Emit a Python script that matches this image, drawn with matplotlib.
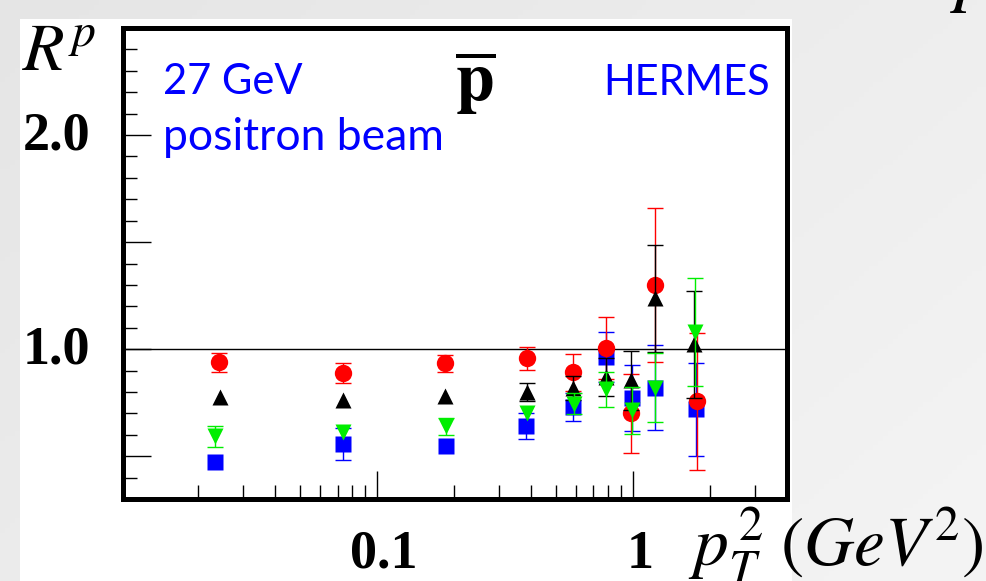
import numpy as np
import matplotlib
matplotlib.use("Agg")
import matplotlib.pyplot as plt
from matplotlib.patches import Rectangle
from matplotlib.ticker import FixedLocator, MultipleLocator, NullFormatter
from matplotlib.transforms import ScaledTranslation

plt.rcParams["mathtext.fontset"] = "stix"

# p_T^2 bins (GeV^2) and ratios R^p for each z-bin series
# (nan: error bar hidden behind the marker)
x_red = [0.02415, 0.07368, 0.1843, 0.3855, 0.5830, 0.7843, 0.982, 1.219, 1.786]
y_red = [0.939, 0.888, 0.934, 0.957, 0.892, 1.005, 0.700, 1.299, 0.757]
e_red = [0.045, 0.045, 0.040, 0.055, 0.087, 0.143, 0.185, 0.360, 0.320]

x_black = [0.02435, 0.07368, 0.1843, 0.3855, 0.5830, 0.7843, 0.982, 1.219, 1.731]
y_black = [0.776, 0.762, 0.780, 0.800, 0.818, 0.870, 0.855, 1.238, 1.023]
e_black = [np.nan, np.nan, np.nan, 0.040, 0.055, 0.090, 0.138, 0.250, 0.250]

x_green = [0.02318, 0.07368, 0.1860, 0.3855, 0.5883, 0.7843, 0.991, 1.219, 1.747]
y_green = [0.593, 0.612, 0.640, 0.700, 0.746, 0.813, 0.715, 0.820, 1.080]
e_green = [0.050, np.nan, 0.040, np.nan, 0.050, 0.082, 0.110, 0.160, 0.250]

x_blue = [0.02318, 0.07368, 0.1860, 0.3820, 0.5830, 0.7843, 0.991, 1.219, 1.770]
y_blue = [0.472, 0.556, 0.547, 0.640, 0.730, 0.963, 0.771, 0.820, 0.720]
e_blue = [np.nan, 0.075, np.nan, 0.060, 0.066, 0.117, 0.154, 0.200, 0.217]

W, H = 987, 581
fig = plt.figure(figsize=(W / 100, H / 100), dpi=100)

# soft grey slide background with a light gradient
bg = fig.add_axes([0, 0, 1, 1], zorder=-10)
gx, gy = np.meshgrid(np.linspace(0, 1, 200), np.linspace(0, 1, 120))
grad = 0.895 + 0.035 * gx + 0.025 * gy
bg.imshow(grad, cmap="gray", vmin=0, vmax=1, aspect="auto", extent=[0, 1, 0, 1],
          origin="upper")
bg.set_axis_off()

# white panel behind the plot
fig.patches.append(Rectangle((20 / W, 0), (792 - 20) / W, (H - 19) / H,
                             transform=fig.transFigure, facecolor="white",
                             edgecolor="none", zorder=-5))


def fx(px):
    return px / W


def fy(py):
    return 1 - py / H


ax = fig.add_axes([fx(123.5), fy(499), fx(787) - fx(123.5), fy(28) - fy(499)])
ax.set_xscale("log")
ax.set_xlim(0.0102, 4.0)
ax.set_ylim(0.3, 2.5)

ax.axhline(1.0, color="black", lw=1.0, zorder=1)

series = [
    (x_blue, y_blue, e_blue, "s", "#0000ff", 11),
    (x_red, y_red, e_red, "o", "#ff0000", 12.5),
    (x_black, y_black, e_black, "^", "black", 11),
    (x_green, y_green, e_green, "v", "#00ee00", 11),
]
for i, (xs, ys, es, mk, col, ms) in enumerate(series):
    ax.errorbar(xs, ys, yerr=np.array(es), fmt=mk, color=col, ms=ms, mec="none",
                elinewidth=1.0, capsize=6, capthick=1.0, zorder=3 + i)

for s in ax.spines.values():
    s.set_linewidth(3.6)

ax.yaxis.set_major_locator(FixedLocator([0.5, 1.0, 1.5, 2.0]))
ax.set_yticklabels(["", "1.0", "", "2.0"])
ax.yaxis.set_minor_locator(MultipleLocator(0.1))
ax.xaxis.set_major_locator(FixedLocator([0.1, 1.0]))
ax.set_xticklabels(["0.1", "1"])
ax.xaxis.set_minor_locator(FixedLocator(
    [m * d for d in (0.01, 0.1, 1.0) for m in range(2, 10) if m * d < 4.0]))
ax.xaxis.set_minor_formatter(NullFormatter())

ax.tick_params(which="both", direction="in", top=False, right=False, width=1.0)
ax.tick_params(which="major", length=20)
ax.tick_params(which="minor", length=10)
ax.tick_params(axis="y", which="major", pad=24)
ax.tick_params(axis="x", which="major", pad=22)

for lab in ax.get_yticklabels():
    lab.set_fontfamily("Liberation Serif")
    lab.set_fontweight("bold")
    lab.set_fontsize(39)
    lab.set_transform(lab.get_transform() + ScaledTranslation(0, 3 / 72, fig.dpi_scale_trans))
for lab in ax.get_xticklabels():
    lab.set_fontfamily("Liberation Serif")
    lab.set_fontweight("bold")
    lab.set_fontsize(39)
    lab.set_transform(lab.get_transform() + ScaledTranslation(5 / 72, 0, fig.dpi_scale_trans))

# axis titles
fig.text(fx(22), fy(70), r"$R^p$", fontsize=49, ha="left", va="baseline")
fig.text(fx(950), fy(-3), r"$p$", fontsize=56, ha="left", va="baseline")
fig.text(fx(688), fy(565), r"$p_T^{\,2}\;(GeV^2)$", fontsize=50,
         ha="left", va="baseline")

# annotations inside the frame
fig.text(fx(455), fy(101), r"$\overline{\mathbf{p}}$", fontsize=50,
         ha="left", va="baseline")
blue_font = dict(family="Lato", color="#0000ff", va="baseline")
fig.text(fx(163), fy(94), "27 GeV", ha="left", fontsize=30, **blue_font)
fig.text(fx(163), fy(150), "positron beam", ha="left", fontsize=32, **blue_font)
fig.text(fx(770), fy(95), "HERMES", ha="right", fontsize=30, **blue_font)

fig.savefig("out.png", dpi=100)
